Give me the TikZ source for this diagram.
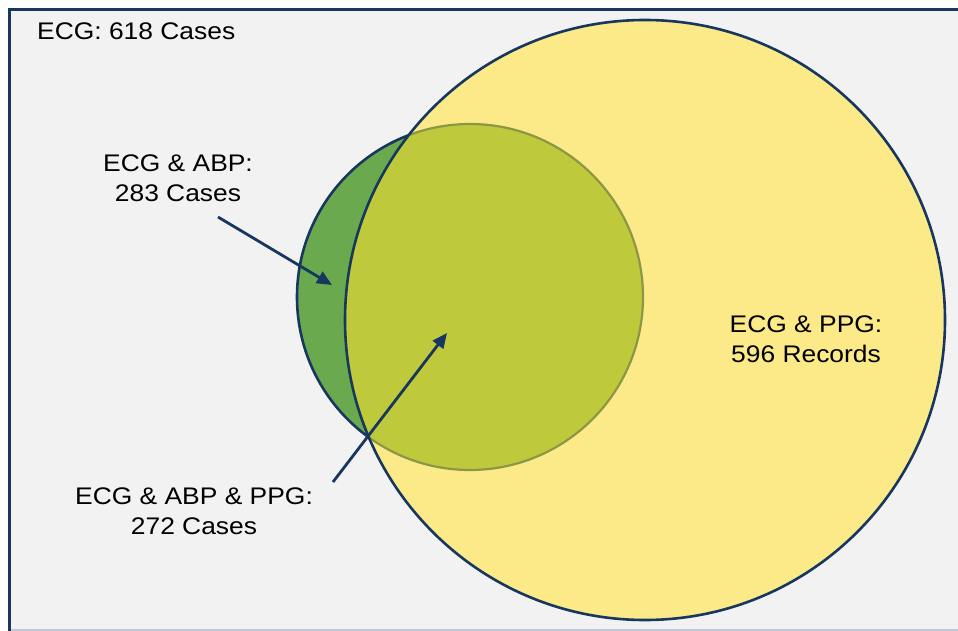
\documentclass[tikz,border=0pt]{standalone}
\usepackage{fontspec}
\setmainfont{Liberation Sans}[FakeStretch=1.1]
\usetikzlibrary{arrows.meta, positioning}

\definecolor{bggray}{HTML}{F2F2F2}
\definecolor{framegray}{HTML}{BFCAD6}
\definecolor{frameblue}{HTML}{17375E}
\definecolor{abpgreen}{HTML}{6BA94F}
\definecolor{ppgyellow}{HTML}{FBEA87}
\definecolor{bothgreen}{HTML}{BFC93C}
\definecolor{bothrim}{HTML}{8C9645}

\begin{document}
\begin{tikzpicture}[x=1pt, y=-1pt,
    every node/.style={font=\fontsize{24}{30}\selectfont, text=black},
    arrow/.style={-{Triangle[length=15pt, width=13pt]}, line width=2.8pt, frameblue},
    label/.style={align=center, inner sep=0pt},
    rim/.style={line width=2.6pt, frameblue},
    innerrim/.style={line width=2.2pt, bothrim}
]
\useasboundingbox (0,0) rectangle (958,631);

% ============ BACKGROUND ============
\fill[white] (0,0) rectangle (958,631);
\fill[bggray] (9,9) rectangle (958,630);
\draw[framegray, line width=1.5pt] (9,630.2) -- (958,630.2);
\draw[frameblue, line width=3pt] (9.5,8) -- (9.5,631);
\draw[frameblue, line width=3pt] (8,9.5) -- (958,9.5);

% ============ CIRCLES ============
\coordinate (abpc) at (470,297);
\coordinate (ppgc) at (645,320);

% ECG & ABP
\fill[abpgreen] (abpc) circle[radius=173pt];
\draw[rim] (abpc) circle[radius=173pt];

% ECG & PPG
\fill[ppgyellow] (ppgc) circle[radius=300pt];

% overlap of both
\begin{scope}
    \clip (ppgc) circle[radius=300pt];
    \fill[bothgreen] (abpc) circle[radius=173pt];
    \draw[innerrim] (abpc) circle[radius=173pt];
\end{scope}
\draw[rim] (ppgc) circle[radius=300pt];

% ============ LABELS ============
\node[label, anchor=base west] (ecg) at (37,40) {ECG: 618 Cases};
\node[label] (abp) at (178,178) {ECG \& ABP:\\283 Cases};
\node[label] (all) at (194,511) {ECG \& ABP \& PPG:\\272 Cases};
\node[label] (ppg) at (806,339) {ECG \& PPG:\\596 Records};

% ============ ARROWS ============
\coordinate (abptail) at (218,217);
\coordinate (abptip) at (332,285);
\coordinate (alltail) at (333,482);
\coordinate (alltip) at (447,333);
\draw[arrow] (abptail) -- (abptip);
\draw[arrow] (alltail) -- (alltip);

\end{tikzpicture}
\end{document}
